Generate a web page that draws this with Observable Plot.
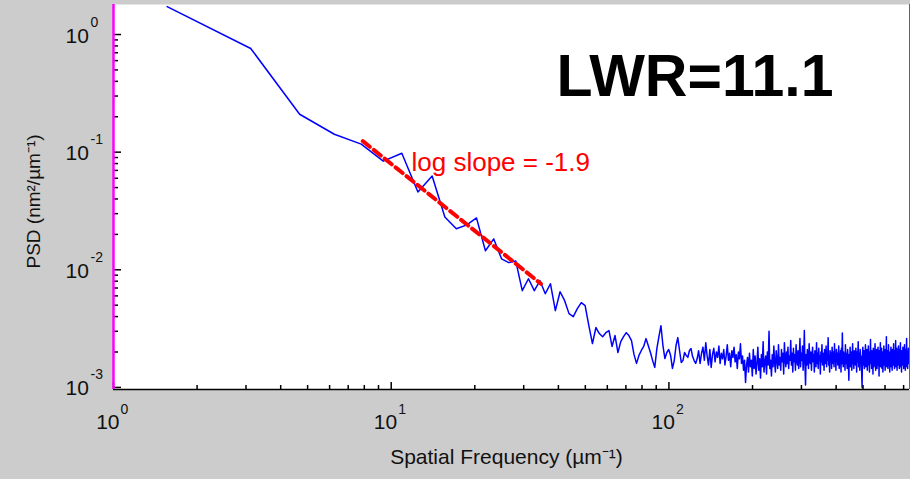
<!DOCTYPE html>
<html><head><meta charset="utf-8">
<script src="https://cdn.jsdelivr.net/npm/d3@7"></script>
<script src="https://cdn.jsdelivr.net/npm/@observablehq/plot@0.6"></script>
<style>html,body{margin:0;padding:0;background:#cccccc;}</style>
</head><body>
<script>
// frequency spacing of the PSD (µm^-1)
const df = 1.56;
// PSD values (nm²/µm⁻¹), one per frequency bin k = 1..471
const psd = [
1.727,0.761,0.21,0.142,0.117,0.0839,0.098,0.0458,0.0626,0.0281,
0.0223,0.0241,0.0276,0.0145,0.0183,0.0124,0.0115,0.0119,0.00664,0.00839,
0.00664,0.00807,0.00626,0.00761,0.00449,0.00651,0.00546,0.00424,0.0040,0.00467,
0.00525,0.00495,0.00335,0.00236,0.00323,0.00287,0.0027,0.00292,0.00304,0.00223,
0.00276,0.00198,0.00245,0.0027,0.00292,0.00276,0.0025,0.0019,0.0016,0.00187,
0.00206,0.00223,0.0026,0.00227,0.00198,0.00169,0.00148,0.00214,0.0027,0.00335,
0.00227,0.00176,0.00198,0.0021,0.00187,0.00145,0.00169,0.00227,0.00265,0.00206,
0.00163,0.00169,0.00198,0.00187,0.0018,0.00206,0.00214,0.00183,0.00169,0.0016,
0.00175,0.00205,0.0016,0.00195,0.0022,0.0017,0.0024,0.00185,0.00155,0.0021,
0.00148,0.0019,0.00215,0.00165,0.002,0.0018,0.00225,0.0016,0.00195,0.00175,
0.0021,0.00155,0.00185,0.0023,0.0017,0.00195,0.0015,0.00205,0.0018,0.0022,
0.00165,0.0019,0.00145,0.002,0.00175,0.00235,0.0016,0.00185,0.0014,0.0017,
0.0011,0.00155,0.0018,0.00135,0.00195,0.0015,0.0017,0.00125,0.0021,0.00145,
0.00185,0.0013,0.0016,0.0022,0.0014,0.00175,0.0012,0.0019,0.0015,0.00245,
0.00135,0.00165,0.00185,0.0013,0.002,0.00155,0.003,0.00145,0.0017,0.00125,
0.0019,0.0015,0.00225,0.0016,0.00135,0.00205,0.0017,0.00145,0.0023,0.00155,
0.0018,0.0014,0.0021,0.00165,0.00195,0.0013,0.0024,0.00175,0.0015,0.002,
0.0016,0.0022,0.00145,0.00185,0.0017,0.0025,0.00155,0.00195,0.00135,0.00215,
0.00165,0.0019,0.0014,0.0023,0.00175,0.00155,0.00205,0.00145,0.00185,0.0026,
0.0015,0.00195,0.0017,0.00225,0.0014,0.0018,0.00305,0.0016,0.00105,0.0019,
0.00155,0.0021,0.0017,0.00145,0.00235,0.0018,0.0016,0.002,0.0014,0.00185,
0.0022,0.00165,0.0019,0.00135,0.00205,0.00175,0.0015,0.0024,0.0016,0.00195,
0.00145,0.00215,0.0017,0.00185,0.0013,0.002,0.00165,0.0023,0.00155,0.0018,
0.00195,0.0014,0.0021,0.00175,0.0016,0.00225,0.0015,0.0019,0.0017,0.00265,
0.00155,0.00185,0.00135,0.00205,0.00165,0.00195,0.00145,0.0022,0.0018,0.0016,
0.002,0.0015,0.00235,0.0017,0.00185,0.0014,0.0021,0.00165,0.00195,0.00155,
0.0018,0.00225,0.00145,0.0019,0.0017,0.00205,0.00135,0.00215,0.0016,0.0029,
0.00175,0.0015,0.002,0.00165,0.00185,0.0014,0.0023,0.0016,0.00195,0.0017,
0.00145,0.0021,0.0018,0.00155,0.00115,0.0019,0.00165,0.0022,0.0015,0.00185,
0.002,0.0014,0.00175,0.00235,0.0016,0.0019,0.00145,0.00205,0.0017,0.00185,
0.00155,0.00215,0.0018,0.00135,0.002,0.00165,0.0019,0.00245,0.0015,0.00175,
0.00195,0.0014,0.0021,0.0016,0.00185,0.0017,0.0013,0.001,0.0019,0.0022,
0.00155,0.0018,0.00205,0.00145,0.00195,0.00165,0.0023,0.0015,0.00185,0.0017,
0.0021,0.0014,0.0019,0.00175,0.00225,0.00155,0.0018,0.00135,0.002,0.00165,
0.00255,0.0016,0.00185,0.00145,0.00205,0.0017,0.00195,0.0013,0.00215,0.00175,
0.0015,0.002,0.00165,0.00235,0.0018,0.0014,0.0019,0.0016,0.0021,0.00145,
0.00185,0.0017,0.0022,0.00155,0.00195,0.00125,0.00205,0.00175,0.0016,0.0024,
0.0015,0.0019,0.0017,0.00215,0.00145,0.00185,0.002,0.00135,0.0018,0.00165,
0.00225,0.00155,0.00195,0.00175,0.0014,0.0021,0.0016,0.0019,0.0027,0.0015,
0.00185,0.00165,0.00205,0.00145,0.0018,0.0023,0.00155,0.00195,0.0017,0.00135,
0.002,0.0016,0.00185,0.0022,0.0015,0.0019,0.00175,0.0014,0.0021,0.00165,
0.00195,0.00155,0.00235,0.0017,0.00185,0.00145,0.00205,0.0018,0.0016,0.0025,
0.0015,0.0019,0.0017,0.00215,0.0014,0.00185,0.002,0.00155,0.00175,0.00225,
0.00165,0.00195,0.00145,0.0021,0.0018,0.0016,0.0024,0.0015,0.0019,0.0017,
0.00135,0.00205,0.00175,0.00185,0.00155,0.0022,0.00165,0.00195,0.00145,0.002,
0.0017,0.0023,0.0016,0.00185,0.0014,0.0021,0.00175,0.0015,0.00195,0.0026,
0.00155,0.0018,0.00205,0.00145,0.0019,0.0017,0.00215,0.0016,0.00185,0.00175,
0.002
];
// linear fit in log-log space (slope -1.9)
const fitFreq = [7.9, 34.6];
const fitPsd = [0.124, 0.0076];
const fitLabel = "log slope = -1.9";
const lwrLabel = "LWR=11.1";
// axes
const xDomain = [1, 735];
const yDomain = [0.00096, 1.8];
const xMajor = [1, 10, 100];
const xExp = ["0", "1", "2"];
const xMinor = [2,3,4,5,6,7,8,9,20,30,40,50,60,70,80,90,200,300,400,500,600,700];
const yMajor = [0.001, 0.01, 0.1, 1];
const yExp = ["-3", "-2", "-1", "0"];
const yMinor = [0.002,0.003,0.004,0.005,0.006,0.007,0.008,0.009,
                0.02,0.03,0.04,0.05,0.06,0.07,0.08,0.09,
                0.2,0.3,0.4,0.5,0.6,0.7,0.8,0.9];
const xTitle = "Spatial Frequency (µm⁻¹)";
const yTitle = "PSD (nm²/µm⁻¹)";

const data = psd.map((v, i) => ({f: (i + 1) * df, p: v}));
const fit = fitFreq.map((f, i) => ({f, p: fitPsd[i]}));

const W = 910, H = 479, mL = 113, mT = 4, mR = 1, mB = 90;
const frameW = W - mL - mR, frameH = H - mT - mB;
const font = "'Liberation Sans', Arial, sans-serif";

const chart = Plot.plot({
  width: W, height: H,
  marginLeft: mL, marginTop: mT, marginRight: mR, marginBottom: mB,
  style: {background: "#cccccc", fontFamily: font, color: "black"},
  x: {type: "log", domain: xDomain, axis: null},
  y: {type: "log", domain: yDomain, axis: null},
  marks: [
    Plot.frame({fill: "white", stroke: null}),
    Plot.line(data, {x: "f", y: "p", stroke: "#0000ff", strokeWidth: 1.5, clip: true}),
    Plot.line(fit, {x: "f", y: "p", stroke: "#ff0000", strokeWidth: 4, strokeDasharray: "9,5"}),
    // y ticks (inside, at left edge)
    Plot.tickY(yMajor, {y: d => d, insetRight: frameW - 8, stroke: "black", strokeWidth: 1.5}),
    Plot.tickY(yMinor, {y: d => d, insetRight: frameW - 5, stroke: "black", strokeWidth: 1.5}),
    // x ticks (inside, at bottom edge)
    Plot.tickX(xMajor, {x: d => d, insetTop: frameH - 7, stroke: "black", strokeWidth: 1.5}),
    Plot.tickX(xMinor, {x: d => d, insetTop: frameH - 4, stroke: "black", strokeWidth: 1.5}),
    // axis lines
    Plot.ruleY([yDomain[0]], {stroke: "black", strokeWidth: 1.5}),
    Plot.ruleX([xDomain[1]], {stroke: "#ff2020", strokeWidth: 1}),
    Plot.ruleX([xDomain[0]], {stroke: "#ff00ff", strokeWidth: 2.5}),
    // x tick labels
    Plot.text(xMajor, {x: d => d, frameAnchor: "bottom", text: () => "10", textAnchor: "end", lineAnchor: "bottom", dx: 6, dy: 39, fontSize: 21, fill: "#111"}),
    Plot.text(xMajor, {x: d => d, frameAnchor: "bottom", text: (d, i) => xExp[i], textAnchor: "start", lineAnchor: "bottom", dx: 7, dy: 24, fontSize: 14, fill: "#111"}),
    // y tick labels
    Plot.text(yMajor, {y: d => d, frameAnchor: "left", text: () => "10", textAnchor: "start", lineAnchor: "bottom", dx: -48, dy: 8, fontSize: 21, fill: "#111"}),
    Plot.text(yMajor, {y: d => d, frameAnchor: "left", text: (d, i) => yExp[i], textAnchor: "start", lineAnchor: "bottom", dx: -23, dy: -8, fontSize: 14, fill: "#111"}),
    // axis titles
    Plot.text([xTitle], {frameAnchor: "bottom", text: d => d, textAnchor: "middle", lineAnchor: "bottom", dx: -5, dy: 74, fontSize: 21, fill: "#111"}),
    Plot.text([yTitle], {frameAnchor: "left", text: d => d, textAnchor: "middle", lineAnchor: "middle", rotate: -90, dx: -80, dy: 4.5, fontSize: 19, fill: "#111"}),
    // annotations
    Plot.text([fitLabel], {frameAnchor: "top-left", text: d => d, textAnchor: "start", lineAnchor: "bottom", dx: 298, dy: 166, fontSize: 26, fill: "#ff0000"}),
    Plot.text([lwrLabel], {frameAnchor: "top-right", text: d => d, textAnchor: "end", lineAnchor: "bottom", dx: -76, dy: 91, fontSize: 59, fontWeight: "bold", fill: "black"})
  ]
});
document.body.appendChild(chart);
</script>
</body></html>
